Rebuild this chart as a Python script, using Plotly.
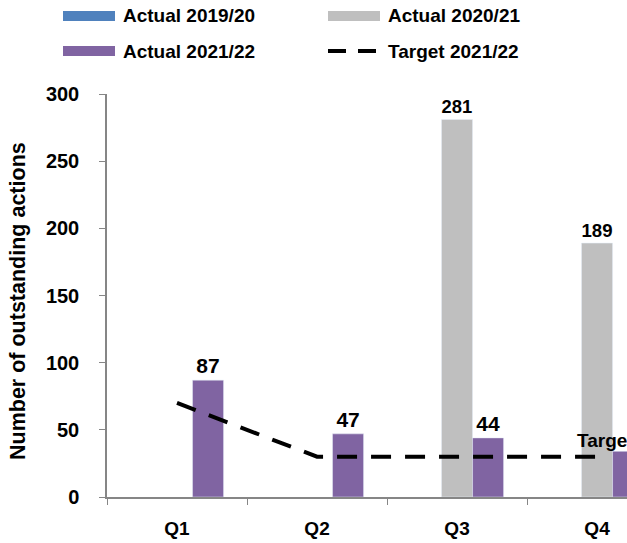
import plotly.graph_objects as go

quarters = ["Q1", "Q2", "Q3", "Q4"]
actual_2019_20 = [None, None, None, None]
actual_2020_21 = [None, None, 281, 189]
actual_2021_22 = [87, 47, 44, 34]
target_2021_22 = [70, 30, 30, 30]
bar_labels_2020_21 = ["", "", "281", "189"]
bar_labels_2021_22 = ["87", "47", "44", ""]

BLUE = "#4F81BD"
GREY = "#BFBFBF"
PURPLE = "#8064A2"
FONT = "Liberation Sans"
W, H = 627, 543
L, R, T, B = 107, 0, 94, 46


def bold(size):
    return dict(family=FONT, size=size, color="black", weight="bold")


fig = go.Figure()
fig.add_bar(x=quarters, y=actual_2019_20, name="Actual 2019/20", marker_color=BLUE)
fig.add_bar(x=quarters, y=actual_2020_21, name="Actual 2020/21", marker_color=GREY,
            text=bar_labels_2020_21, textposition="outside")
fig.add_bar(x=quarters, y=actual_2021_22, name="Actual 2021/22", marker_color=PURPLE,
            text=bar_labels_2021_22, textposition="outside")
fig.add_scatter(x=quarters, y=target_2021_22, name="Target 2021/22", mode="lines",
                line=dict(color="black", width=4, dash="20px,14px"))

fig.update_traces(selector=dict(type="bar"), textfont=bold(21), cliponaxis=False)

pw, ph = W - L - R, H - T - B


def px(x):
    return (x - L) / pw


def py(y):
    return (H - B - y) / ph


# legend drawn as swatches + labels in two columns
legend_items = [
    ("Actual 2019/20", "bar", BLUE, 63, 16),
    ("Actual 2020/21", "bar", GREY, 328, 16),
    ("Actual 2021/22", "bar", PURPLE, 63, 51),
    ("Target 2021/22", "line", "black", 328, 51),
]
shapes = []
annotations = []
for label, kind, color, x0, yc in legend_items:
    if kind == "bar":
        shapes.append(dict(type="rect", xref="paper", yref="paper",
                           x0=px(x0), x1=px(x0 + 52), y0=py(yc - 5), y1=py(yc + 5),
                           fillcolor=color, line=dict(width=0)))
    else:
        shapes.append(dict(type="line", xref="paper", yref="paper",
                           x0=px(x0), x1=px(x0 + 52), y0=py(yc), y1=py(yc),
                           line=dict(color=color, width=4, dash="18px,12px")))
    annotations.append(dict(text=label, xref="paper", yref="paper", x=px(x0 + 58), y=py(yc),
                            xanchor="left", yanchor="middle", showarrow=False,
                            font=bold(19)))

annotations.append(dict(text="Number of outstanding actions", xref="paper", yref="paper",
                        x=px(18), y=py(301), textangle=-90, showarrow=False,
                        xanchor="center", yanchor="middle", font=bold(21.5)))
annotations.append(dict(text="Target 2021/22", x="Q4", y=target_2021_22[3], xref="x", yref="y",
                        xanchor="left", yanchor="bottom", xshift=-22, yshift=4, showarrow=False,
                        font=bold(19)))

fig.update_layout(
    width=W, height=H,
    margin=dict(l=L, r=R, t=T, b=B, autoexpand=False),
    paper_bgcolor="white", plot_bgcolor="white",
    barmode="group", bargap=0.335, bargroupgap=0,
    showlegend=False,
    shapes=shapes, annotations=annotations,
    font=bold(19),
)
fig.update_xaxes(range=[-0.5, 3.214], showline=True, linecolor="#868686", linewidth=1.5,
                 ticks="outside", tickson="boundaries", ticklen=6, tickcolor="#868686",
                 tickfont=bold(19), ticklabelstandoff=13,
                 showgrid=False, zeroline=False)
fig.update_yaxes(range=[0, 300], dtick=50, showline=True, linecolor="#868686", linewidth=1.5,
                 ticks="outside", ticklen=6, tickcolor="#868686",
                 tickfont=bold(20), ticklabelstandoff=16,
                 showgrid=False, zeroline=False)

fig.write_html("out.html")
